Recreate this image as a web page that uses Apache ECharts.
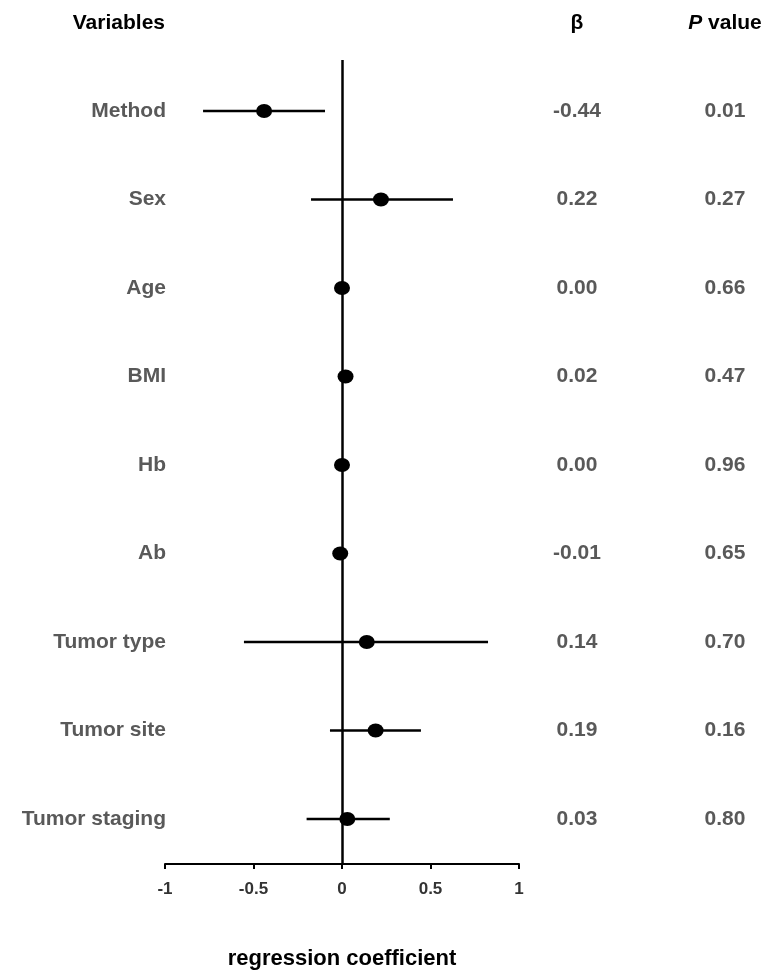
<!DOCTYPE html>
<html>
<head>
<meta charset="utf-8">
<script src="https://cdn.jsdelivr.net/npm/echarts@6/dist/echarts.min.js"></script>
<style>
body { margin: 0; padding: 0; background: #fff; }
#main { width: 772px; height: 972px; }
</style>
</head>
<body>
<div id="main"></div>
<script>
// variables, coefficient, confidence interval, p value
const variables = ['Method', 'Sex', 'Age', 'BMI', 'Hb', 'Ab', 'Tumor type', 'Tumor site', 'Tumor staging']
const beta = [-0.44, 0.22, 0.00, 0.02, 0.00, -0.01, 0.14, 0.19, 0.03]
const ciLow = [-0.785, -0.175, -0.01, -0.02, -0.01, -0.02, -0.554, -0.068, -0.2]
const ciHigh = [-0.096, 0.627, 0.01, 0.055, 0.01, 0.005, 0.825, 0.446, 0.27]
const pValues = ['0.01', '0.27', '0.66', '0.47', '0.96', '0.65', '0.70', '0.16', '0.80']
const xTicks = [-1, -0.5, 0, 0.5, 1]

const font = "'Liberation Sans', Arial, sans-serif"
const gray = '#595959'
const betaX = 577
const pX = 725

let myChart = echarts.init(document.getElementById('main'))

const option = {
  backgroundColor: '#fff',
  animation: false,
  grid: { left: 165, right: 253, top: 60, bottom: 108, outerBoundsMode: 'none', containLabel: false },
  xAxis: {
    type: 'value',
    min: xTicks[0],
    max: xTicks[xTicks.length - 1],
    interval: 0.5,
    splitLine: { show: false },
    axisLine: { show: true, onZero: false, lineStyle: { color: '#000', width: 2 } },
    axisTick: { show: true, length: 5, lineStyle: { color: '#000', width: 2 } },
    axisLabel: {
      margin: 17,
      color: '#333',
      fontSize: 17,
      fontWeight: 'bold',
      fontFamily: font,
      formatter: function (v) { return String(v) }
    },
    name: 'regression coefficient',
    nameLocation: 'middle',
    nameGap: 84,
    nameTextStyle: { color: '#000', fontSize: 22, fontWeight: 'bold', fontFamily: font }
  },
  yAxis: {
    type: 'value',
    inverse: true,
    min: -0.576,
    max: 8.508,
    show: false
  },
  graphic: [
    { type: 'text', right: 772 - 165, top: 13, style: { text: 'Variables', fill: '#000', font: 'bold 21px ' + font } },
    { type: 'text', x: betaX, y: 23, style: { text: 'β', fill: '#000', font: 'bold 21px ' + font, align: 'center', verticalAlign: 'middle' } },
    {
      type: 'text', x: pX, y: 23,
      style: {
        text: '{i|P} value',
        fill: '#000',
        font: 'bold 21px ' + font,
        align: 'center',
        verticalAlign: 'middle',
        rich: { i: { fontStyle: 'italic', fontWeight: 'bold', fontSize: 21, fontFamily: font, fill: '#000' } }
      }
    }
  ],
  series: [
    {
      type: 'custom',
      name: 'ci',
      data: variables.map(function (v, i) { return [ciLow[i], ciHigh[i], i] }),
      encode: { x: [0, 1], y: 2 },
      renderItem: function (params, api) {
        const a = api.coord([api.value(0), api.value(2)])
        const b = api.coord([api.value(1), api.value(2)])
        return {
          type: 'line',
          shape: { x1: a[0], y1: a[1], x2: b[0], y2: b[1] },
          style: { stroke: '#000', lineWidth: 2.5 }
        }
      },
      z: 2
    },
    {
      type: 'scatter',
      name: 'beta',
      data: variables.map(function (v, i) { return [beta[i], i] }),
      symbol: 'circle',
      symbolSize: [16, 14],
      itemStyle: { color: '#000', opacity: 1 },
      z: 3,
      markLine: {
        silent: true,
        symbol: 'none',
        label: { show: false },
        lineStyle: { color: '#000', width: 2.5, type: 'solid' },
        data: [{ xAxis: 0 }]
      }
    },
    {
      type: 'custom',
      name: 'text',
      data: variables.map(function (v, i) { return [0, i] }),
      encode: { x: 0, y: 1 },
      renderItem: function (params, api) {
        const i = params.dataIndex
        const y = api.coord([0, api.value(1)])[1]
        const left = api.coord([-1, 0])[0]
        const st = { fill: gray, font: 'bold 21px ' + font, verticalAlign: 'middle' }
        return {
          type: 'group',
          children: [
            { type: 'text', x: left + 1, y: y, style: Object.assign({ text: variables[i], align: 'right' }, st) },
            { type: 'text', x: betaX, y: y, style: Object.assign({ text: beta[i].toFixed(2), align: 'center' }, st) },
            { type: 'text', x: pX, y: y, style: Object.assign({ text: pValues[i], align: 'center' }, st) }
          ]
        }
      }
    }
  ]
}

myChart.setOption(option)
</script>
</body>
</html>
